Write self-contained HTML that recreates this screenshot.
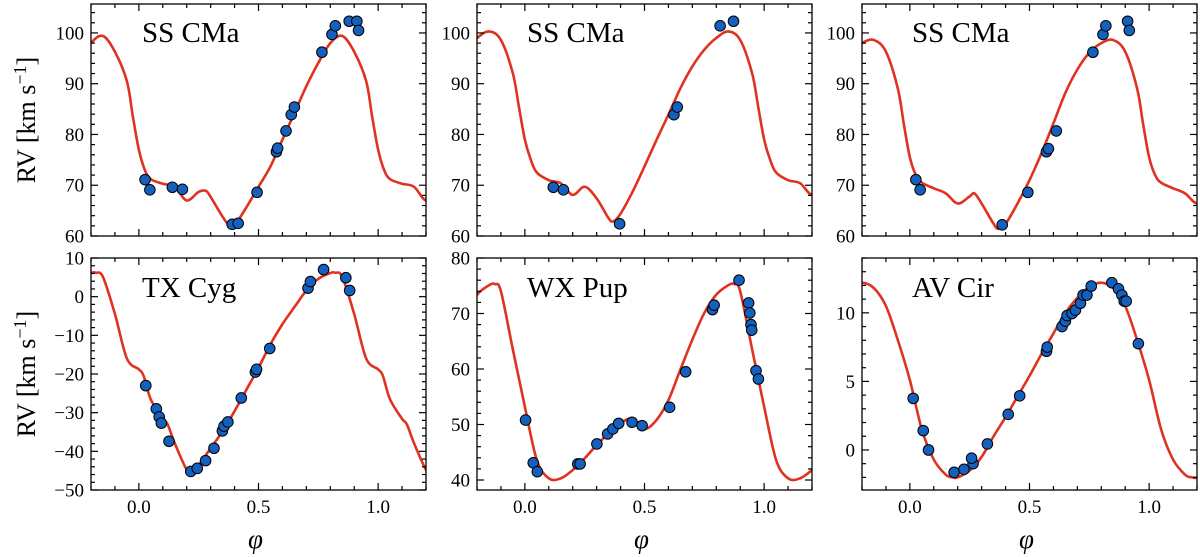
<!DOCTYPE html>
<html><head><meta charset="utf-8">
<style>
html,body{margin:0;padding:0;background:#fff;}
svg{display:block;font-family:"Liberation Serif",serif;}
</style></head>
<body>
<svg id="fig" width="1200" height="557" viewBox="0 0 1200 557" xmlns="http://www.w3.org/2000/svg"></svg>
<script>
// ---- data: SS CMa (panel 1) ----
const p1CurvePhase=[0,0.025,0.05,0.1,0.15,0.2,0.25,0.28,0.3,0.35,0.38,0.4,0.45,0.5,0.55,0.6,0.65,0.7,0.75,0.8,0.85,0.9,0.95,0.975];
const p1CurveRV=[77,73,71.2,70.3,69.7,67.0,68.7,68.9,67.7,63.8,61.9,62.1,65.7,69.7,73.7,79,84.2,89.5,94.1,98,99.4,96.3,90.5,83.5];
const p1ObsPhase=[0.026,0.046,0.140,0.182,0.39,0.415,0.494,0.575,0.58,0.615,0.637,0.65,0.765,0.807,0.821,0.879,0.911,0.918];
const p1ObsRV=[71.1,69.1,69.6,69.2,62.3,62.5,68.6,76.6,77.3,80.7,83.9,85.4,96.2,99.7,101.4,102.3,102.3,100.5];
// ---- data: SS CMa (panel 2) ----
const p2CurvePhase=[0,0.025,0.05,0.1,0.15,0.2,0.25,0.3,0.35,0.37,0.4,0.45,0.5,0.55,0.6,0.65,0.7,0.75,0.8,0.85,0.9,0.95,0.975];
const p2CurveRV=[79,75,72.5,71,70.4,68.1,69.7,67.4,63.5,62.9,64.4,68.7,73.7,78.9,83.9,89.1,93.4,96.7,99,100.3,98.6,92,85.5];
const p2ObsPhase=[0.119,0.161,0.396,0.623,0.637,0.816,0.872];
const p2ObsRV=[69.6,69.1,62.4,83.9,85.4,101.4,102.3];
// ---- data: SS CMa (panel 3) ----
const p3CurvePhase=[0,0.025,0.05,0.1,0.15,0.2,0.25,0.27,0.3,0.35,0.37,0.4,0.45,0.5,0.55,0.6,0.65,0.7,0.75,0.8,0.85,0.9,0.95,0.975];
const p3CurveRV=[75.5,72,70.5,69.4,68.4,66.4,67.8,68.4,66.4,62.4,61.4,62.4,66.4,71,76.3,82.2,88.2,92.8,96.1,98,98.6,96.3,89,82];
const p3ObsPhase=[0.025,0.043,0.386,0.493,0.571,0.579,0.612,0.765,0.807,0.819,0.91,0.917];
const p3ObsRV=[71.1,69.1,62.2,68.6,76.6,77.2,80.7,96.2,99.7,101.4,102.3,100.5];
// ---- data: TX Cyg (panel 4) ----
const p4CurvePhase=[0,0.02,0.05,0.1,0.12,0.15,0.2,0.22,0.25,0.3,0.35,0.4,0.45,0.5,0.55,0.6,0.65,0.7,0.75,0.8,0.82,0.85,0.9,0.95];
const p4CurveRV=[-18.8,-20.5,-26.6,-31.6,-33,-37.9,-44.8,-45.5,-43.5,-39.2,-34.8,-29.6,-24,-18.4,-12.3,-7.1,-2.7,1.6,4.6,6.1,6.2,5.1,-4.5,-16];
const p4ObsPhase=[0.029,0.073,0.085,0.094,0.126,0.217,0.244,0.279,0.314,0.349,0.356,0.372,0.428,0.487,0.492,0.547,0.707,0.717,0.772,0.865,0.881];
const p4ObsRV=[-23,-29,-31.1,-32.7,-37.4,-45.2,-44.4,-42.4,-39.2,-34.7,-33.5,-32.4,-26.2,-19.5,-18.8,-13.4,2.2,3.9,7,4.9,1.6];
// ---- data: WX Pup (panel 5) ----
const p5CurvePhase=[0,0.05,0.1,0.15,0.2,0.25,0.3,0.35,0.4,0.45,0.5,0.55,0.6,0.65,0.7,0.75,0.8,0.85,0.875,0.9,0.95];
const p5CurveRV=[53.2,43.6,40.3,40.3,41.8,43.9,46.3,48.4,50.2,51.1,49.2,50.8,54.4,59.9,65.3,70.1,73.4,75.1,75.3,74.0,63.5];
const p5ObsPhase=[0.003,0.035,0.052,0.221,0.231,0.301,0.346,0.368,0.392,0.448,0.490,0.605,0.672,0.784,0.791,0.895,0.935,0.94,0.945,0.948,0.966,0.976];
const p5ObsRV=[50.8,43.1,41.5,42.9,42.9,46.5,48.3,49.2,50.2,50.4,49.8,53.1,59.5,70.7,71.5,76,71.9,70.1,68,67,59.7,58.2];
// ---- data: AV Cir (panel 6) ----
const p6CurvePhase=[0,0.05,0.1,0.15,0.18,0.2,0.25,0.3,0.35,0.4,0.45,0.5,0.55,0.6,0.65,0.7,0.75,0.8,0.85,0.9,0.95];
const p6CurveRV=[5.1,1.5,-0.7,-1.8,-2,-2,-1.5,-0.5,1,2.4,3.9,5.4,7,8.5,10,11.1,11.9,12.2,11.8,10.5,8];
const p6ObsPhase=[0.014,0.056,0.078,0.185,0.226,0.264,0.258,0.324,0.411,0.459,0.571,0.574,0.636,0.65,0.657,0.678,0.692,0.713,0.724,0.74,0.758,0.844,0.872,0.886,0.896,0.904,0.955];
const p6ObsRV=[3.76,1.41,0,-1.63,-1.41,-1.0,-0.6,0.44,2.6,3.95,7.2,7.5,9.0,9.4,9.8,9.95,10.2,10.7,11.3,11.3,11.95,12.2,11.75,11.3,10.85,10.85,7.75];
// ---- axis labels ----
const xTickLabels=[0.0,0.5,1.0];
const titles=["SS CMa","SS CMa","SS CMa","TX Cyg","WX Pup","AV Cir"];

const NS="http://www.w3.org/2000/svg";
const svg=document.getElementById('fig');
function mk(tag,attrs,parent){const e=document.createElementNS(NS,tag);for(const k in attrs)e.setAttribute(k,attrs[k]);(parent||svg).appendChild(e);return e;}
function fmt(v,dec){let s=v.toFixed(dec);if(v<0)s='\u2212'+s.slice(1);return s;}

const panels=[
 {x0:91,y0:4,cp:p1CurvePhase,cv:p1CurveRV,op:p1ObsPhase,ov:p1ObsRV,ymin:60,ymax:105.7,maj:10,minr:2,ylab:true,xlab:false,t:0},
 {x0:477,y0:4,cp:p2CurvePhase,cv:p2CurveRV,op:p2ObsPhase,ov:p2ObsRV,ymin:60,ymax:105.7,maj:10,minr:2,ylab:false,xlab:false,t:1},
 {x0:862,y0:4,cp:p3CurvePhase,cv:p3CurveRV,op:p3ObsPhase,ov:p3ObsRV,ymin:60,ymax:105.7,maj:10,minr:2,ylab:false,xlab:false,t:2},
 {x0:91,y0:258,cp:p4CurvePhase,cv:p4CurveRV,op:p4ObsPhase,ov:p4ObsRV,ymin:-50,ymax:10,maj:10,minr:2,ylab:true,xlab:true,t:3},
 {x0:477,y0:258,cp:p5CurvePhase,cv:p5CurveRV,op:p5ObsPhase,ov:p5ObsRV,ymin:38.2,ymax:80,maj:10,minr:2,ylab:false,xlab:true,t:4},
 {x0:862,y0:258,cp:p6CurvePhase,cv:p6CurveRV,op:p6ObsPhase,ov:p6ObsRV,ymin:-2.92,ymax:14,maj:5,minr:1,ylab:false,xlab:true,t:5}
];
const W=335,H=232,XMIN=-0.2,XMAX=1.2;

panels.forEach((p,i)=>{
  const g=mk('g',{});
  
  
  const X=v=>p.x0+(v-XMIN)/(XMAX-XMIN)*W;
  const Y=v=>p.y0+H-(v-p.ymin)/(p.ymax-p.ymin)*H;
  const clip=mk('clipPath',{id:'clip'+i},g);
  mk('rect',{x:p.x0,y:p.y0,width:W,height:H},clip);
  const pts=[];
  for(let c=-1;c<=1;c++)for(let k=0;k<p.cp.length;k++){const ph=p.cp[k]+c;if(ph>=-0.45&&ph<=1.45)pts.push([X(ph),Y(p.cv[k])]);}
  let d='M'+pts[0][0].toFixed(2)+','+pts[0][1].toFixed(2);
  for(let k=0;k<pts.length-1;k++){
    const p0=pts[Math.max(0,k-1)],p1=pts[k],p2=pts[k+1],p3=pts[Math.min(pts.length-1,k+2)];
    const c1=[p1[0]+(p2[0]-p0[0])/6,p1[1]+(p2[1]-p0[1])/6];
    const c2=[p2[0]-(p3[0]-p1[0])/6,p2[1]-(p3[1]-p1[1])/6];
    d+=' C'+c1[0].toFixed(2)+','+c1[1].toFixed(2)+' '+c2[0].toFixed(2)+','+c2[1].toFixed(2)+' '+p2[0].toFixed(2)+','+p2[1].toFixed(2);
  }
  const path=mk('path',{d:d,fill:'none',stroke:'#e03220','stroke-width':2.6,'clip-path':'url(#clip'+i+')'},g);
  
  
  p.op.forEach((ph,k)=>{
    const c=mk('circle',{cx:X(ph),cy:Y(p.ov[k]),r:5.3,fill:'#1560bd',stroke:'#000','stroke-width':1},g);
    
    
  });
  const fr=mk('rect',{x:p.x0,y:p.y0,width:W,height:H,fill:'none',stroke:'#000','stroke-width':1.3},g);
  
  
  for(let t=-2;t<=12;t++){const v=t/10;const x=X(v);const L=(t%5===0)?7:4;
    mk('line',{x1:x,y1:p.y0+H,x2:x,y2:p.y0+H-L,stroke:'#000','stroke-width':1.2},g);
    mk('line',{x1:x,y1:p.y0,x2:x,y2:p.y0+L,stroke:'#000','stroke-width':1.2},g);}
  if(p.xlab){xTickLabels.forEach(v=>{const tx=mk('text',{x:X(v),y:513,'font-size':19,'text-anchor':'middle'},g);tx.textContent=v.toFixed(1);
    });
    const xl=mk('text',{x:p.x0+W/2-3,y:548,'font-size':27,'font-style':'italic','text-anchor':'middle'},g);xl.textContent='\u03C6';
    }
  const start=Math.ceil(p.ymin/p.minr)*p.minr;
  for(let v=start;v<=p.ymax+1e-9;v+=p.minr){const y=Y(v);const isMaj=Math.abs(v/p.maj-Math.round(v/p.maj))<1e-6;const L=isMaj?7:4;
    mk('line',{x1:p.x0,y1:y,x2:p.x0+L,y2:y,stroke:'#000','stroke-width':1.2},g);
    mk('line',{x1:p.x0+W,y1:y,x2:p.x0+W-L,y2:y,stroke:'#000','stroke-width':1.2},g);
    if(isMaj){const tx=mk('text',{x:p.x0-7,y:y+6.5,'font-size':19,'text-anchor':'end'},g);tx.textContent=fmt(Math.round(v),0);
      }}
  const tt=mk('text',{x:p.x0+(i%3===0?51:50),y:p.y0+(p.y0<100?38:39),'font-size':29},g);tt.textContent=titles[p.t];
  
  if(p.ylab){const cy=p.y0+H/2;const yl=mk('text',{x:0,y:0,'font-size':26,'text-anchor':'middle',transform:'translate(35,'+cy+') rotate(-90)'},g);
    yl.innerHTML='RV [km s<tspan dy="-9" font-size="18">\u22121</tspan><tspan dy="9">]</tspan>';
    }
});
</script>
</body></html>
